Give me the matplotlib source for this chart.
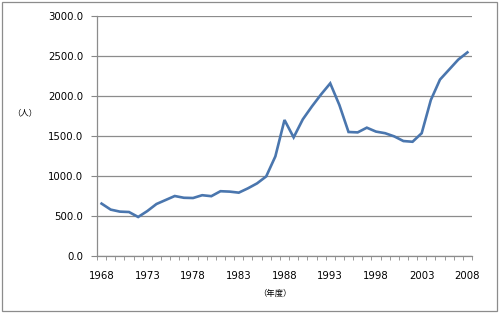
import numpy as np
import matplotlib
matplotlib.use('Agg')
from matplotlib import pyplot as plt
from matplotlib.patches import Rectangle

# Dati
anni = list(range(1968, 2009))
valori = [655, 580, 555, 550, 488, 562, 650, 700, 750, 728, 725, 760, 748, 810, 805,
          792, 846, 908, 995, 1245, 1700, 1483, 1708, 1870, 2020, 2158, 1887, 1550,
          1545, 1604, 1555, 1535, 1495, 1437, 1428, 1535, 1950, 2205, 2330, 2455, 2545]
yticks = [0, 500, 1000, 1500, 2000, 2500, 3000]
xlabels = [str(a) for a in anni[::5]]

plt.rcParams['font.family'] = ['DejaVu Sans']
fig = plt.figure(figsize=(5.0, 3.13), dpi=100)
ax = fig.add_axes([0.194, 0.182, 0.75, 0.767])

x = np.arange(len(anni))
ax.plot(x, valori, color='#4A76AE', lw=1.9, solid_joinstyle='miter', zorder=3)

ax.set_xlim(-0.5, len(anni) - 0.5)
ax.set_ylim(0, 3000)
ax.set_yticks(yticks)
ax.set_yticklabels(['%.1f' % v for v in yticks], fontsize=7.3)
ax.set_xticks(x[::5])
ax.set_xticklabels(xlabels, fontsize=7.3)
ax.set_xticks(np.arange(-0.5, len(anni), 1.0), minor=True)
ax.tick_params(axis='x', which='major', length=0, pad=11)
ax.tick_params(axis='x', which='minor', length=3, color='#888888', direction='out')
ax.tick_params(axis='y', length=4, color='#888888', direction='out', pad=6)

ax.grid(axis='y', color='#8c8c8c', lw=0.9, zorder=0)
for s in ['top', 'right']:
    ax.spines[s].set_visible(False)
for s in ['left', 'bottom']:
    ax.spines[s].set_color('#8c8c8c')
    ax.spines[s].set_linewidth(0.9)

fig.text(0.05, 0.64, '（人）', fontsize=6, family=['Noto Sans CJK JP', 'DejaVu Sans'],
         ha='center', va='center')
fig.text(0.55, 0.063, '（年度）', fontsize=6, family=['Noto Sans CJK JP', 'DejaVu Sans'],
         ha='center', va='center')

# Cornice esterna
fig.patches.append(Rectangle((0.004, 0.005), 0.99, 0.988, transform=fig.transFigure,
                             fill=False, edgecolor='#8c8c8c', lw=0.9))

fig.savefig('out.png', dpi=100)
